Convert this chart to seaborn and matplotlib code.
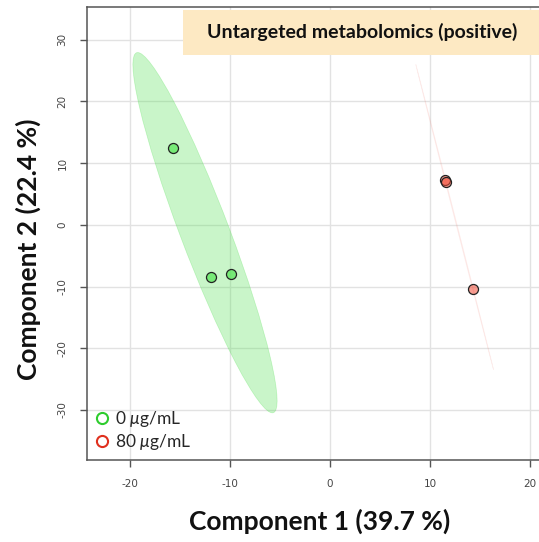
import numpy as np
import pandas as pd
import matplotlib
matplotlib.use("Agg")
import matplotlib.pyplot as plt
from matplotlib.patches import Ellipse, Rectangle
from matplotlib.lines import Line2D
import seaborn as sns

# ---- data ----
groups = ["0 µg/mL", "0 µg/mL", "0 µg/mL", "80 µg/mL", "80 µg/mL", "80 µg/mL"]
comp1 = [-15.7, -11.9, -9.9, 11.5, 11.6, 14.3]
comp2 = [12.5, -8.4, -7.9, 7.3, 6.9, -10.4]
group_names = ["0 µg/mL", "80 µg/mL"]
legend_labels = [r"0 $\mu$g/mL", r"80 $\mu$g/mL"]
xticks = [-20, -10, 0, 10, 20]
yticks = [-30, -20, -10, 0, 10, 20, 30]
xlabel = "Component 1 (39.7 %)"
ylabel = "Component 2 (22.4 %)"
title = "Untargeted metabolomics (positive)"

df = pd.DataFrame({"c1": comp1, "c2": comp2, "group": groups})

sns.set_style("whitegrid")
plt.rcParams['font.family'] = ['Lato', 'DejaVu Sans']
plt.rcParams['mathtext.fontset'] = 'custom'
plt.rcParams['mathtext.it'] = 'Lato:italic'
plt.rcParams['mathtext.rm'] = 'Lato'

line_colors = {"0 µg/mL": "#2ecc2e", "80 µg/mL": "#e0301e"}
face_colors = {"0 µg/mL": (0.33, 0.9, 0.33, 0.7), "80 µg/mL": (0.95, 0.3, 0.22, 0.55)}
ell_colors = {"0 µg/mL": (0.3, 0.88, 0.3, 0.30), "80 µg/mL": (0.95, 0.45, 0.4, 0.10)}

fig = plt.figure(figsize=(5.39, 5.42), dpi=100)
ax = fig.add_axes([87/539, 82/542, 452/539, 453/542])

# confidence ellipses (95%) computed from the data
scale = np.sqrt(5.991)
for g in group_names:
    sub = df[df.group == g]
    pts = sub[["c1", "c2"]].to_numpy()
    mu = pts.mean(axis=0)
    cov = np.cov(pts.T)
    vals, vecs = np.linalg.eigh(cov)
    order = vals.argsort()[::-1]
    vals, vecs = vals[order], vecs[:, order]
    ang = np.degrees(np.arctan2(vecs[1, 0], vecs[0, 0]))
    w, h = 2 * scale * np.sqrt(np.maximum(vals, 1e-4))
    e = Ellipse(mu, w, h, angle=ang, facecolor=ell_colors[g], edgecolor=ell_colors[g],
                linewidth=0.5, zorder=1)
    ax.add_patch(e)

for g in group_names:
    sub = df[df.group == g]
    sns.scatterplot(data=sub, x="c1", y="c2", ax=ax, s=52, color=face_colors[g][:3],
                    edgecolor="#222222", linewidth=0.9, zorder=3, legend=False)
    ax.collections[-1].set_facecolor(face_colors[g])

ax.set_xlim(-24.3, 20.9)
ax.set_ylim(-38.1, 35.3)
ax.set_xticks(xticks)
ax.set_yticks(yticks)
ax.set_xticklabels([str(t) for t in xticks], fontsize=7.5, color="#444444", family="DejaVu Sans")
ax.set_yticklabels([str(t) for t in yticks], fontsize=7.5, color="#444444", family="DejaVu Sans",
                   rotation=90, va="center")
ax.tick_params(axis="both", which="major", length=5, width=1, color="#555555",
               bottom=True, left=True, pad=9)
ax.grid(True, color="#e2e2e2", linewidth=1)
for s in ["left", "bottom", "top"]:
    ax.spines[s].set_color("#555555")
    ax.spines[s].set_linewidth(1.1)
ax.spines["right"].set_visible(False)

ax.set_xlabel(xlabel, fontsize=19, fontweight="bold", color="#111111", va="center")
ax.set_ylabel(ylabel, fontsize=19, fontweight="bold", color="#111111", va="center")
ax.xaxis.set_label_coords((320-87)/452, -(521-460)/453)
ax.yaxis.set_label_coords(-(87-28)/452, (460-249)/453)

handles = [Line2D([], [], marker="o", linestyle="none", markersize=8, markerfacecolor="none",
                  markeredgecolor=line_colors[g], markeredgewidth=1.5) for g in group_names]
ax.legend(handles, legend_labels, loc="lower left", bbox_to_anchor=(-0.012, -0.005), frameon=False,
          fontsize=12.5, handletextpad=0.15, handlelength=1.2, labelspacing=0.15, borderaxespad=0.2)

fig.patches.append(Rectangle((183/539, (542-55)/542), 1 - 183/539, 45/542,
                             transform=fig.transFigure, facecolor="#fde9c3", edgecolor="none",
                             zorder=5))
fig.text(362/539, (542-32)/542, title, fontsize=14, fontweight="bold", color="#111111",
         ha="center", va="center", zorder=6)

fig.savefig("out.png", dpi=100)
